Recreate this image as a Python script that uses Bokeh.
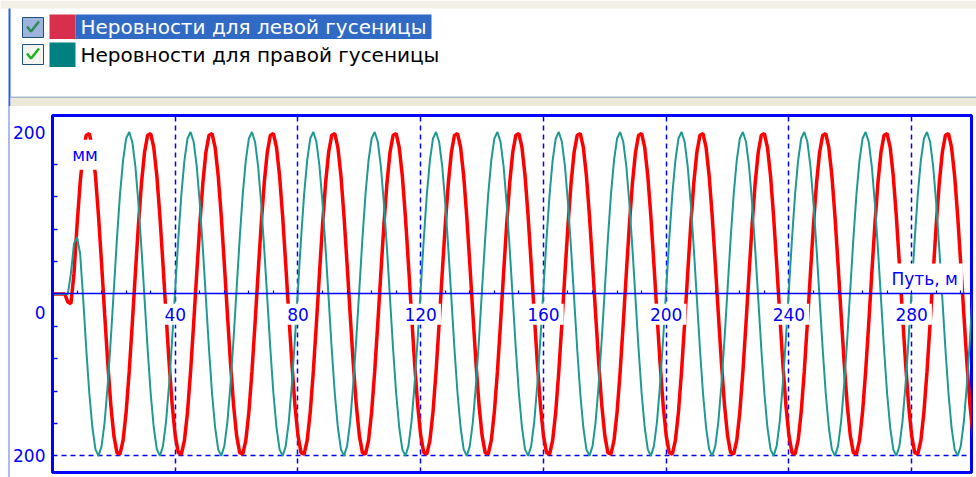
from bokeh.plotting import figure
from bokeh.layouts import column
from bokeh.models import Range1d, FixedTicker, LinearAxis, Grid, ColumnDataSource
from bokeh.core.properties import value
from bokeh.embed import file_html
from bokeh.resources import INLINE

# ---------------- data ----------------
dist_m = list(range(0, 301))  # sampling grid, 1 m step

left_track_mm = [
    0, 0, 0, 0, 0, -10, -12,
    25, 85, 137, 175, 196, 198, 181, 146, 96, 37, -25, -85, -137, -175, -196, -198, -181, -146, -96, -37,
    25, 85, 137, 175, 196, 198, 181, 146, 96, 37, -25, -85, -137, -175, -196, -198, -181, -146, -96, -37,
    25, 85, 137, 175, 196, 198, 181, 146, 96, 37, -25, -85, -137, -175, -196, -198, -181, -146, -96, -37,
    25, 85, 137, 175, 196, 198, 181, 146, 96, 37, -25, -85, -137, -175, -196, -198, -181, -146, -96, -37,
    25, 85, 137, 175, 196, 198, 181, 146, 96, 37, -25, -85, -137, -175, -196, -198, -181, -146, -96, -37,
    25, 85, 137, 175, 196, 198, 181, 146, 96, 37, -25, -85, -137, -175, -196, -198, -181, -146, -96, -37,
    25, 85, 137, 175, 196, 198, 181, 146, 96, 37, -25, -85, -137, -175, -196, -198, -181, -146, -96, -37,
    25, 85, 137, 175, 196, 198, 181, 146, 96, 37, -25, -85, -137, -175, -196, -198, -181, -146, -96, -37,
    25, 85, 137, 175, 196, 198, 181, 146, 96, 37, -25, -85, -137, -175, -196, -198, -181, -146, -96, -37,
    25, 85, 137, 175, 196, 198, 181, 146, 96, 37, -25, -85, -137, -175, -196, -198, -181, -146, -96, -37,
    25, 85, 137, 175, 196, 198, 181, 146, 96, 37, -25, -85, -137, -175, -196, -198, -181, -146, -96, -37,
    25, 85, 137, 175, 196, 198, 181, 146, 96, 37, -25, -85, -137, -175, -196, -198, -181, -146, -96, -37,
    25, 85, 137, 175, 196, 198, 181, 146, 96, 37, -25, -85, -137, -175, -196, -198, -181, -146, -96, -37,
    25, 85, 137, 175, 196, 198, 181, 146, 96, 37, -25, -85, -137, -175, -196, -198, -181, -146, -96, -37,
    25, 85, 137, 175, 196, 198, 181, 146, 96, 37, -25, -85, -137, -175,
]

right_track_mm = [
    0, 0, 0, 0, 0, 0, 25, 62, 70, 50,
    -6, -68, -123, -165, -192, -200, -188, -158, -112, -56,
    6, 68, 123, 165, 192, 200, 188, 158, 112, 56, -6, -68, -123, -165, -192, -200, -188, -158, -112, -56,
    6, 68, 123, 165, 192, 200, 188, 158, 112, 56, -6, -68, -123, -165, -192, -200, -188, -158, -112, -56,
    6, 68, 123, 165, 192, 200, 188, 158, 112, 56, -6, -68, -123, -165, -192, -200, -188, -158, -112, -56,
    6, 68, 123, 165, 192, 200, 188, 158, 112, 56, -6, -68, -123, -165, -192, -200, -188, -158, -112, -56,
    6, 68, 123, 165, 192, 200, 188, 158, 112, 56, -6, -68, -123, -165, -192, -200, -188, -158, -112, -56,
    6, 68, 123, 165, 192, 200, 188, 158, 112, 56, -6, -68, -123, -165, -192, -200, -188, -158, -112, -56,
    6, 68, 123, 165, 192, 200, 188, 158, 112, 56, -6, -68, -123, -165, -192, -200, -188, -158, -112, -56,
    6, 68, 123, 165, 192, 200, 188, 158, 112, 56, -6, -68, -123, -165, -192, -200, -188, -158, -112, -56,
    6, 68, 123, 165, 192, 200, 188, 158, 112, 56, -6, -68, -123, -165, -192, -200, -188, -158, -112, -56,
    6, 68, 123, 165, 192, 200, 188, 158, 112, 56, -6, -68, -123, -165, -192, -200, -188, -158, -112, -56,
    6, 68, 123, 165, 192, 200, 188, 158, 112, 56, -6, -68, -123, -165, -192, -200, -188, -158, -112, -56,
    6, 68, 123, 165, 192, 200, 188, 158, 112, 56, -6, -68, -123, -165, -192, -200, -188, -158, -112, -56,
    6, 68, 123, 165, 192, 200, 188, 158, 112, 56, -6, -68, -123, -165, -192, -200, -188, -158, -112, -56,
    6, 68, 123, 165, 192, 200, 188, 158, 112, 56, -6, -68, -123, -165, -192, -200, -188, -158, -112, -56,
    6,
]

series_names = ["Неровности для левой гусеницы", "Неровности для правой гусеницы"]
series_colors = ["#FF0000", "#1F9A92"]

x_tick_values = [40, 80, 120, 160, 200, 240, 280]
x_tick_labels = ["40", "80", "120", "160", "200", "240", "280"]
x_small_ticks = list(range(8, 300, 8))
y_label_ticks = [200, -23, -200]
y_label_texts = {200: "200", -23: "0", -200: "200"}
y_minor_ticks = [-160, -120, -80, -40, 40, 80, 120, 160]
y_grid_ticks = [-200]
x_axis_title = "Путь, м"
y_axis_title = "мм"

FONT = "DejaVu Sans"
BLUE = "#0000FF"

# ---------------- legend panel ----------------
leg = figure(width=976, height=106, x_range=Range1d(0, 976), y_range=Range1d(106, 0),
             toolbar_location=None, output_backend="svg", min_border=0,
             x_axis_location=None, y_axis_location=None,
             outline_line_color=None, background_fill_color="white",
             border_fill_color="white")
leg.grid.visible = False

leg.quad(left=0, right=976, top=0, bottom=8, fill_color="#F1EFE6", line_color=None)
leg.quad(left=8, right=10, top=8, bottom=106, fill_color="#2F5BEA", line_color=None)
leg.quad(left=10, right=976, top=96, bottom=97.5, fill_color="#A8B8D0", line_color=None)
leg.quad(left=10, right=976, top=97.5, bottom=106, fill_color="#ECE9D8", line_color=None)
# highlighted first entry
leg.quad(left=75, right=431, top=14, bottom=38.5, fill_color="#316AC5", line_color=None)
# checkboxes
leg.quad(left=[22, 22], right=[43, 43], top=[17, 44], bottom=[37, 64],
         fill_color=["#9DB3DD", "#F4F4F0"], line_color="#1C5180", line_width=1)
leg.line(x=[26.5, 30.5, 38.5], y=[26, 31, 21], line_color="#2E8B57", line_width=2.5)
leg.line(x=[26.5, 30.5, 38.5], y=[53, 58, 48], line_color="#22B022", line_width=2.5)
# swatches
leg.quad(left=[49, 49], right=[75, 75], top=[14, 42], bottom=[38.5, 66.5],
         fill_color=["#D8304C", "#008080"], line_color=None)
leg_src = ColumnDataSource(dict(x=[80, 80], y=[26.5, 54], text=series_names,
                                color=["white", "black"]))
leg.text(x="x", y="y", text="text", text_color="color", source=leg_src,
         text_baseline="middle", text_align="left",
         text_font=value(FONT), text_font_size="20px")

# ---------------- chart ----------------
p = figure(width=976, height=371, x_range=Range1d(0, 299.5), y_range=Range1d(-220.6, 220.4),
           toolbar_location=None, output_backend="svg",
           min_border_left=52, min_border_right=5, min_border_top=9, min_border_bottom=5,
           x_axis_location=None, y_axis_location=None,
           outline_line_color=BLUE, outline_line_width=3,
           background_fill_color="white", border_fill_color=None)
p.grid.visible = False
p.styles = {"background": "linear-gradient(to right, white 8px, #A9BCEB 8px, "
                          "#A9BCEB 10px, white 10px)"}

for f in (leg, p):
    try:
        f.frame_align = False
    except AttributeError:
        pass

xgrid = Grid(dimension=0, ticker=FixedTicker(ticks=x_tick_values),
             grid_line_color=BLUE, grid_line_width=1.5, grid_line_dash="5 4")
ygrid = Grid(dimension=1, ticker=FixedTicker(ticks=y_grid_ticks),
             grid_line_color=BLUE, grid_line_width=1.5, grid_line_dash="5 4")
p.add_layout(xgrid)
p.add_layout(ygrid)

yax = LinearAxis(ticker=FixedTicker(ticks=y_label_ticks, minor_ticks=y_minor_ticks),
                 major_label_overrides=y_label_texts,
                 axis_line_color=BLUE, axis_line_width=3,
                 major_tick_in=0, major_tick_out=0,
                 minor_tick_in=5, minor_tick_out=0,
                 minor_tick_line_color=BLUE, minor_tick_line_width=1.5,
                 major_label_text_color=BLUE, major_label_text_font=FONT,
                 major_label_text_font_size="17px", major_label_standoff=7)
p.add_layout(yax, "left")

# horizontal axis drawn through y = 0, small inward ticks only (labels drawn separately)
xax = LinearAxis(fixed_location=0,
                 ticker=FixedTicker(ticks=[], minor_ticks=x_small_ticks),
                 axis_line_color=BLUE, axis_line_width=1.5,
                 major_tick_in=0, major_tick_out=0, minor_tick_in=3, minor_tick_out=0,
                 minor_tick_line_color=BLUE, minor_tick_line_width=1.2,
                 major_label_standoff=0)
p.add_layout(xax, "below")

src = ColumnDataSource(dict(x=dist_m, left=left_track_mm, right=right_track_mm))
p.line(x="x", y="left", source=src, line_color=series_colors[0], line_width=3.5)
p.line(x="x", y="right", source=src, line_color=series_colors[1], line_width=2)

lab_src = ColumnDataSource(dict(x=x_tick_values, text=x_tick_labels))
p.text(x="x", y=-12, text="text", source=lab_src, text_align="center", text_baseline="top",
       text_color=BLUE, text_font=value(FONT), text_font_size="17px",
       background_fill_color="white", padding=4)
p.text(x=[296.7], y=[19], text=[x_axis_title], text_align="right", text_baseline="middle",
       text_color=BLUE, text_font=value(FONT), text_font_size="17px",
       background_fill_color="white", padding=5)
p.text(x=[4.8], y=[172], text=[y_axis_title], text_align="left", text_baseline="middle",
       text_color=BLUE, text_font=value(FONT), text_font_size="17px",
       background_fill_color="white", padding=5)

layout = column(leg, p, spacing=0)

open("out.html", "w").write(file_html(layout, INLINE))
